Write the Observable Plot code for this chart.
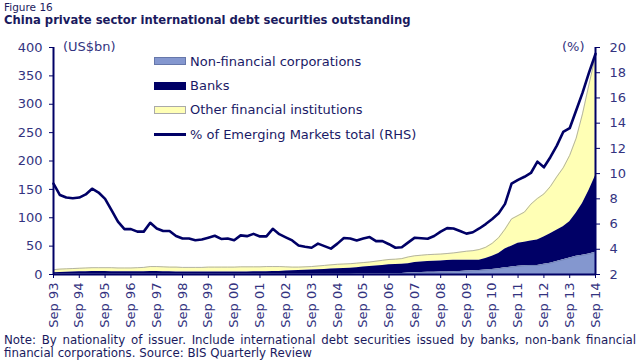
<!DOCTYPE html>
<html><head><meta charset="utf-8">
<script src="https://cdn.jsdelivr.net/npm/d3@7"></script>
<script src="https://cdn.jsdelivr.net/npm/@observablehq/plot@0.6"></script>
<style>
body{margin:0;width:640px;height:360px;overflow:hidden;background:#fff;font-family:"DejaVu Sans",Verdana,sans-serif;position:relative;color:#1a1a5e}
#fig{position:absolute;left:4px;top:1px;font-size:10.5px;line-height:12px}
#title{position:absolute;left:4px;top:13px;font-size:11.6px;font-weight:bold;line-height:14px}
#chart{position:absolute;left:0;top:28px}
.unit{position:absolute;font-size:13px;color:#333380;line-height:16px}
#legend{position:absolute;left:154px;top:49px;font-size:13px;color:#1a1a66}
.row{height:24.4px;display:flex;align-items:center;position:relative}
.sw{width:32px;height:8px;margin-right:4px;box-sizing:border-box}
#note{position:absolute;left:4px;top:334px;width:632px;font-size:11.8px;line-height:13px;color:#1a1a5e}
</style></head><body>
<div id="fig">Figure 16</div>
<div id="title">China private sector international debt securities outstanding</div>
<div id="chart"></div>
<div class="unit" style="left:63px;top:39px">(US$bn)</div>
<div class="unit" style="left:562px;top:39px">(%)</div>
<div id="legend">
  <div class="row"><div class="sw" style="background:#8497cf;border:1px solid #6677aa"></div>Non-financial corporations</div>
  <div class="row"><div class="sw" style="background:#000066"></div>Banks</div>
  <div class="row"><div class="sw" style="background:#ffffb5;border:1px solid #aaaaaa"></div>Other financial institutions</div>
  <div class="row"><div class="sw" style="height:2.5px;background:#000066"></div>% of Emerging Markets total (RHS)</div>
</div>
<div id="note">
  <div style="display:flex;justify-content:space-between;white-space:nowrap"><span>Note:</span><span>By</span><span>nationality</span><span>of</span><span>issuer.</span><span>Include</span><span>international</span><span>debt</span><span>securities</span><span>issued</span><span>by</span><span>banks,</span><span>non-bank</span><span>financial</span></div>
  <div>financial corporations. Source: BIS Quarterly Review</div>
</div>
<script>
// Quarterly, Sep 1993 .. Sep 2014 (85 quarters)
const totalTop = [8.5,9.5,10,10.5,11,11.5,12,12,12,12,
  11.5,11.5,11.5,12,12.5,14,14,13.5,13,13,
  12.5,12.5,12.5,12.5,13,13,13,13,13,13.5,
  13.5,13.5,13.5,14,14,14,13.5,13,13,13.5,
  14,15,16,17,18,18.5,19,20,21,22,
  23.5,25,26.5,27,28,31,33,34,35,35.5,
  36,37,38,39.5,41,42,44,48,55,65,
  80,98,104,110,124,134,142,155,172,188,
  210,240,283,335,385];
const banksTop = [3,3.5,4,4.5,5,5,5.5,5.5,5.5,5,
  5,5,5,5,5,5.5,5.5,5,5,4.5,
  4.5,4.5,4.5,4.5,4.5,4.5,4.5,4.5,4.5,4.5,
  4.5,5,5,5,5.5,5.5,6,6.5,7,7.5,
  8,8.5,9,9.5,10,10.5,11,12,13,14,
  15,16,17,17.5,18,19,21,22,23,23.5,
  24,24.5,25,25,25,25,25,28,32,37,
  45,50,55,57,59,61,66,72,78,84,
  93,108,125,148,174];
const nfcTop = [0.3,0.3,0.3,0.3,0.3,0.3,0.3,0.3,0.3,0.3,
  0.3,0.3,0.3,0.3,0.3,0.3,0.3,0.3,0.3,0.3,
  0.3,0.3,0.3,0.3,0.3,0.3,0.3,0.3,0.3,0.3,
  0.3,0.3,0.3,0.3,0.3,0.3,0.3,0.3,0.3,0.3,
  0.3,0.3,0.3,0.3,0.3,0.5,0.6,0.7,0.8,0.9,
  1,1,1.2,1.5,1.8,2.5,3,3.5,3.8,4,
  4.2,4.5,5,5.5,6,6.5,7,8,9,10,
  12,13,14.5,15.5,16,16,18,20,23,26,
  29,32,34,36,39];
const emShare = [9.2,8.3,8.1,8.05,8.1,8.35,8.8,8.5,8.0,7.1,
  6.2,5.6,5.6,5.4,5.4,6.1,5.65,5.45,5.45,5.05,
  4.85,4.85,4.72,4.78,4.92,5.07,4.82,4.86,4.72,5.1,
  5.04,5.22,5.02,5.02,5.62,5.2,4.95,4.7,4.3,4.2,
  4.12,4.45,4.25,4.05,4.45,4.9,4.85,4.7,4.85,4.97,
  4.65,4.65,4.4,4.12,4.16,4.55,4.92,4.87,4.83,5.05,
  5.4,5.68,5.65,5.45,5.24,5.35,5.65,6.0,6.4,6.85,
  7.6,9.2,9.5,9.75,10.05,10.95,10.5,11.3,12.2,13.3,
  13.6,15.0,16.4,18.0,19.5];
const leftTicks = [0,50,100,150,200,250,300,350,400];
const rightTicks = [2,4,6,8,10,12,14,16,18,20];
const tickYears = [1993,1994,1995,1996,1997,1998,1999,2000,2001,2002,2003,2004,2005,2006,2007,2008,2009,2010,2011,2012,2013,2014];

const dates = emShare.map((_, i) => new Date(Date.UTC(1993, 8 + 3 * i, 1)));
const xTicks = tickYears.map(y => new Date(Date.UTC(y, 8, 1)));
const toLeft = v => (v - 2) * 400 / 18;
const fromLeft = d => Math.round(d * 18 / 400 + 2);

const data = dates.map((d, i) => ({date: d, nfc: nfcTop[i], banks: banksTop[i], total: totalTop[i], pct: toLeft(emShare[i])}));
const navy = "#000066";

const chart = Plot.plot({
  width: 640, height: 310,
  marginTop: 19, marginBottom: 64, marginLeft: 53, marginRight: 45,
  style: {fontFamily: "DejaVu Sans, sans-serif", fontSize: "13px", color: "#333380", background: "transparent", overflow: "visible"},
  x: {type: "utc", domain: [dates[0], dates[dates.length - 1]]},
  y: {domain: [0, 400]},
  marks: [
    Plot.areaY(data, {x: "date", y1: "banks", y2: "total", fill: "#ffffb5"}),
    Plot.lineY(data, {x: "date", y: "total", stroke: "#a0a0a0", strokeWidth: 0.8}),
    Plot.areaY(data, {x: "date", y1: "nfc", y2: "banks", fill: navy}),
    Plot.areaY(data, {x: "date", y1: 0, y2: "nfc", fill: "#8497cf"}),
    Plot.lineY(data, {x: "date", y: "nfc", stroke: "#6677aa", strokeWidth: 0.6}),
    Plot.lineY(data, {x: "date", y: "pct", stroke: navy, strokeWidth: 2.6, strokeLinejoin: "round"}),
    Plot.axisY(leftTicks, {anchor: "left", tickSize: 4, tickPadding: 7, stroke: navy, label: null}),
    Plot.axisY(rightTicks.map(toLeft), {anchor: "right", tickSize: 4, tickPadding: 10, tickFormat: fromLeft, stroke: navy, label: null}),
    Plot.axisX(xTicks, {tickSize: 4, tickRotate: -90, tickPadding: 4, tickFormat: d => "Sep " + d3.utcFormat("%y")(d), stroke: navy, label: null}),
    Plot.ruleX([dates[0]], {stroke: navy, strokeWidth: 2}),
    Plot.ruleX([dates[dates.length - 1]], {stroke: navy, strokeWidth: 2}),
    Plot.ruleY([0], {stroke: navy, strokeWidth: 2})
  ]
});
document.getElementById("chart").appendChild(chart);
</script>
</body></html>
